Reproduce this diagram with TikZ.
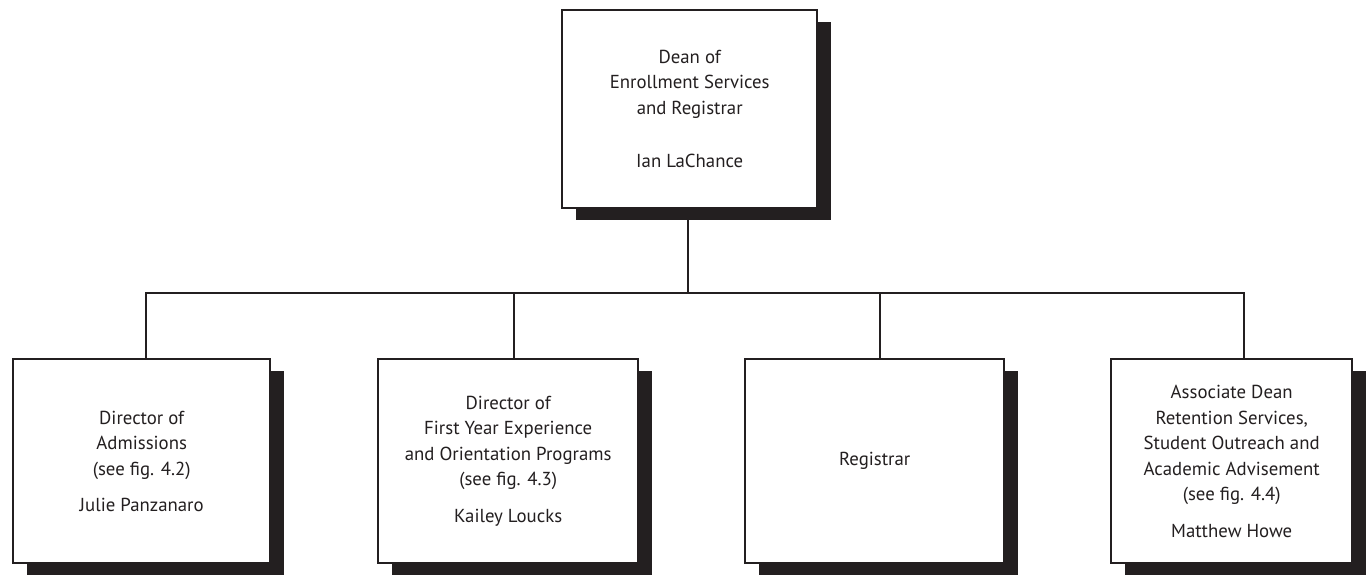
\documentclass[tikz,border=0pt]{standalone}
\usepackage{fontspec}
\setmainfont{PT Sans}
\usetikzlibrary{shadows}
\definecolor{ink}{HTML}{231F20}
\begin{document}
\begin{tikzpicture}[x=1pt,y=-1pt,
  orgbox/.style={draw=ink, fill=white, line width=2.4pt, anchor=north west,
    align=center, text=ink, inner sep=0pt,
    font=\fontsize{18.8}{25.5}\selectfont,
    drop shadow={shadow xshift=14pt, shadow yshift=-12pt, fill=ink, opacity=1}},
  lowbox/.style={orgbox, minimum width=257pt, minimum height=204pt},
  conn/.style={draw=ink, line width=2.4pt}]
\useasboundingbox (0,0) rectangle (1366,574);
% junction points
\coordinate (jt) at (688,293);
\coordinate (v1) at (146,293);
\coordinate (v2) at (514,293);
\coordinate (v3) at (880,293);
\coordinate (v4) at (1244,293);
% connectors
\draw[conn] (jt |- 0,210) -- (jt);
\draw[conn] (v1 |- 0,358) -- (v1) -- (v4) -- (v4 |- 0,358);
\draw[conn] (v2) -- (v2 |- 0,358);
\draw[conn] (v3) -- (v3 |- 0,358);
% boxes
\node[orgbox, minimum width=255pt, minimum height=198pt] (dean) at (561,9)
  {Dean of\\Enrollment Services\\and Registrar\\[28pt]Ian LaChance};
\node[lowbox] (b1) at (12,358)
  {Director of\\Admissions\\(see fig. 4.2)\\[11pt]Julie Panzanaro};
\node[lowbox, minimum width=260pt] (b2) at (377,358)
  {Director of\\First Year Experience\\and Orientation Programs\\(see fig. 4.3)\\[11pt]Kailey Loucks};
\node[lowbox, minimum width=259pt] (b3) at (744,358) {Registrar};
\node[lowbox, minimum width=241pt] (b4) at (1110,358)
  {Associate Dean\\Retention Services,\\Student Outreach and\\Academic Advisement\\(see fig. 4.4)\\[11pt]Matthew Howe};
\end{tikzpicture}
\end{document}
